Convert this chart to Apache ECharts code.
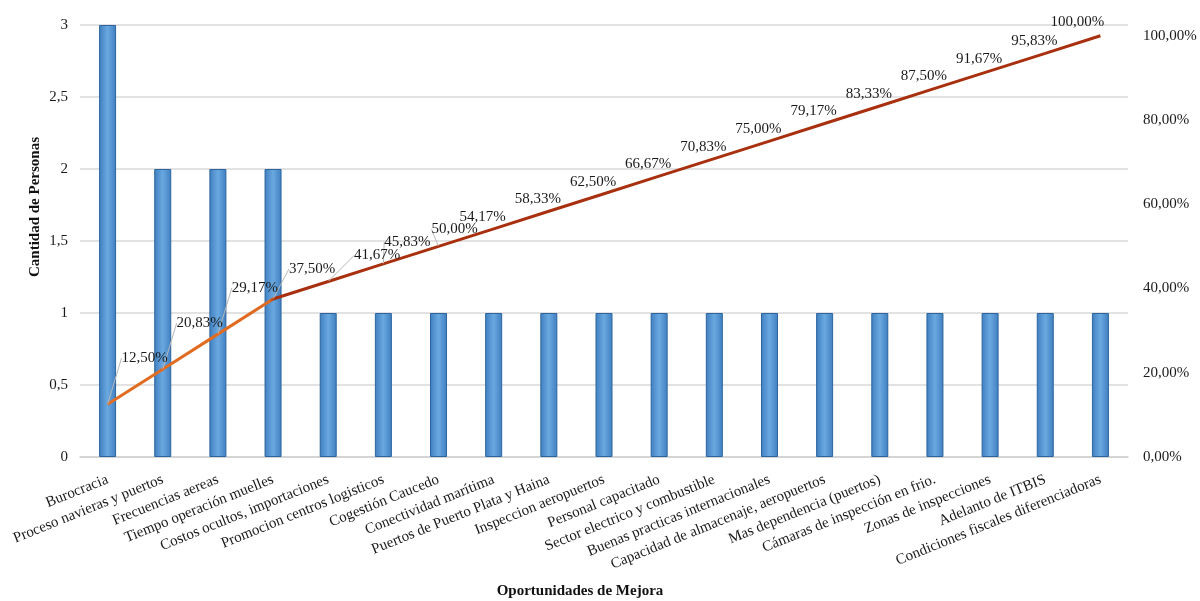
<!DOCTYPE html>
<html>
<head>
<meta charset="utf-8">
<script src="https://cdn.jsdelivr.net/npm/echarts@6/dist/echarts.min.js"></script>
<style>
  html, body { margin: 0; padding: 0; background: #ffffff; }
  #chart { width: 1200px; height: 601px; }
</style>
</head>
<body>
<div id="chart"></div>
<script>
// Oportunidades de mejora: frequency bars plus cumulative percentage (Pareto)
const categories = [
  'Burocracia',
  'Proceso navieras y puertos',
  'Frecuencias aereas',
  'Tiempo operación muelles',
  'Costos ocultos, importaciones',
  'Promocion centros logisticos',
  'Cogestión Caucedo',
  'Conectividad marítima',
  'Puertos de Puerto Plata y Haina',
  'Inspeccion aeropuertos',
  'Personal capacitado',
  'Sector electrico y combustible',
  'Buenas practicas internacionales',
  'Capacidad de almacenaje, aeropuertos',
  'Mas dependencia (puertos)',
  'Cámaras de inspección en frio.',
  'Zonas de inspecciones',
  'Adelanto de ITBIS',
  'Condiciones fiscales diferenciadoras'
];
const personas = [3, 2, 2, 2, 1, 1, 1, 1, 1, 1, 1, 1, 1, 1, 1, 1, 1, 1, 1];
const acumulado = [12.50, 20.83, 29.17, 37.50, 41.67, 45.83, 50.00, 54.17, 58.33,
  62.50, 66.67, 70.83, 75.00, 79.17, 83.33, 87.50, 91.67, 95.83, 100.00];
const leftTicks = [0, 0.5, 1, 1.5, 2, 2.5, 3];
const rightTicks = [0, 20, 40, 60, 80, 100];

const serif = '"Liberation Serif", "DejaVu Serif", serif';
const fmtComma = (v, d) => v.toFixed(d).replace('.', ',');

// label nudges for the cumulative line: early points carry leader lines
function labelShift(i) {
  if (i < 3) return [37, -34];
  if (i === 3) return [39, -18];
  if (i === 4) return [49, -14];
  if (i === 5) return [24, -10];
  if (i === 6) return [16, -5];
  if (i === 18) return [-23, -2];
  return [-11, 0];
}

const chart = echarts.init(document.getElementById('chart'), null, { renderer: 'canvas' });

const barColor = new echarts.graphic.LinearGradient(0, 0, 1, 0, [
  { offset: 0, color: '#3f7fc0' },
  { offset: 0.5, color: '#6aa8e0' },
  { offset: 1, color: '#3f7fc0' }
]);
const lineColor = new echarts.graphic.LinearGradient(0, 0, 1, 0, [
  { offset: 0, color: '#e26d22' },
  { offset: 0.165, color: '#e06a20' },
  { offset: 0.17, color: '#a8300e' },
  { offset: 1, color: '#a8300e' }
]);

// leader lines only where the label sits away from its point
const lineData = acumulado.map((v, i) => ({ value: v, labelLine: { show: i < 7 } }));

chart.setOption({
  animation: false,
  backgroundColor: '#ffffff',
  grid: { left: 80, right: 72, top: 25, bottom: 144 },
  xAxis: {
    type: 'category',
    data: categories,
    axisLine: { show: true, lineStyle: { color: '#d0d0d0', width: 1.5 } },
    axisTick: { show: false },
    axisLabel: {
      interval: 0,
      rotate: 22,
      margin: 22,
      color: '#1a1a1a',
      fontFamily: serif,
      fontSize: 15
    }
  },
  yAxis: [
    {
      type: 'value',
      min: 0,
      max: 3,
      interval: 0.5,
      axisLine: { show: false },
      axisTick: { show: false },
      splitLine: { lineStyle: { color: '#d9d9d9', width: 1.5 } },
      axisLabel: {
        margin: 12,
        color: '#1a1a1a',
        fontFamily: serif,
        fontSize: 15,
        formatter: v => leftTicks.includes(v) ? String(v).replace('.', ',') : ''
      }
    },
    {
      type: 'value',
      min: 0,
      max: 102.55,
      interval: 20,
      position: 'right',
      axisLine: { show: false },
      axisTick: { show: false },
      splitLine: { show: false },
      axisLabel: {
        showMaxLabel: false,
        margin: 15,
        color: '#1a1a1a',
        fontFamily: serif,
        fontSize: 15,
        formatter: v => rightTicks.includes(v) ? fmtComma(v, 2) + '%' : ''
      }
    }
  ],
  series: [
    {
      name: 'Cantidad de Personas',
      type: 'bar',
      data: personas,
      barWidth: 17,
      yAxisIndex: 0,
      itemStyle: { color: barColor, borderColor: '#2b649e', borderWidth: 1 }
    },
    {
      name: 'Acumulado',
      type: 'line',
      data: lineData,
      yAxisIndex: 1,
      symbol: 'circle',
      symbolSize: 1,
      showSymbol: true,
      itemStyle: { color: 'rgba(0,0,0,0)' },
      lineStyle: { color: lineColor, width: 3 },
      z: 5,
      label: {
        show: true,
        position: 'top',
        distance: 4,
        color: '#1a1a1a',
        fontFamily: serif,
        fontSize: 15,
        formatter: p => fmtComma(p.value, 2) + '%'
      },
      labelLine: {
        show: true,
        lineStyle: { color: '#b8b8b8', width: 1 }
      },
      labelLayout: params => {
        const s = labelShift(params.dataIndex);
        return { dx: s[0], dy: s[1] };
      }
    }
  ],
  graphic: [
    {
      type: 'text',
      x: 35,
      y: 207,
      rotation: Math.PI / 2,
      style: {
        text: 'Cantidad de Personas',
        fill: '#111',
        font: 'bold 15px ' + serif,
        textAlign: 'center',
        textVerticalAlign: 'middle'
      }
    },
    {
      type: 'text',
      x: 580,
      y: 591,
      style: {
        text: 'Oportunidades de Mejora',
        fill: '#111',
        font: 'bold 15px ' + serif,
        textAlign: 'center',
        textVerticalAlign: 'middle'
      }
    }
  ]
});
</script>
</body>
</html>
